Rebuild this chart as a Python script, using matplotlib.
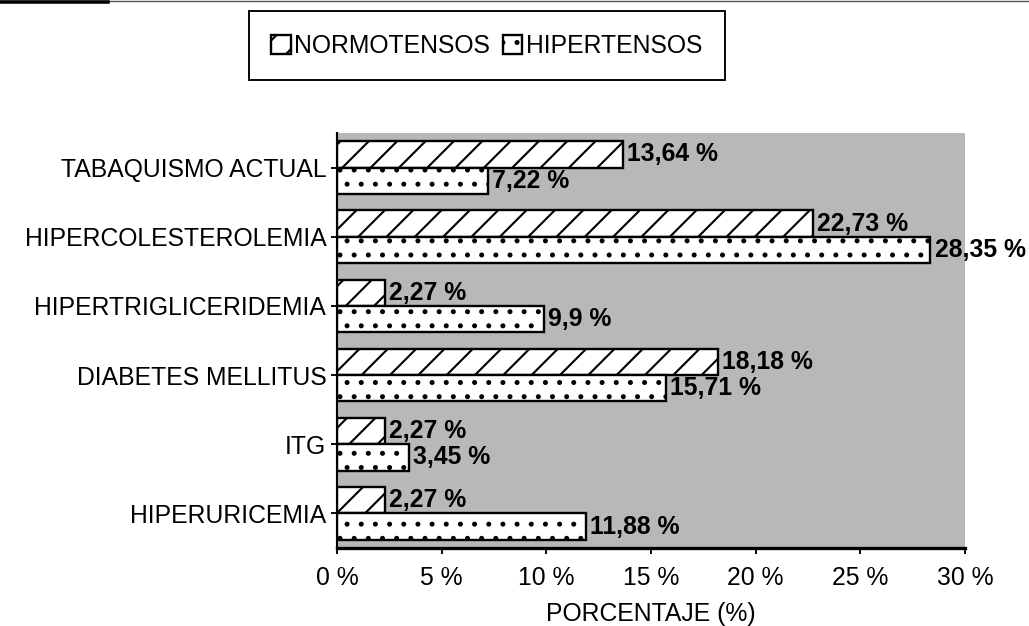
import matplotlib
matplotlib.use('Agg')
import matplotlib.pyplot as plt
import numpy as np
from matplotlib.patches import Patch
from matplotlib.lines import Line2D

# Factores de riesgo: normotensos vs hipertensos
categorias = ['TABAQUISMO ACTUAL', 'HIPERCOLESTEROLEMIA', 'HIPERTRIGLICERIDEMIA',
              'DIABETES MELLITUS', 'ITG', 'HIPERURICEMIA']
normotensos = [13.64, 22.73, 2.27, 18.18, 2.27, 2.27]
hipertensos = [7.22, 28.35, 9.9, 15.71, 3.45, 11.88]
xticks = [0, 5, 10, 15, 20, 25, 30]

DPI = 170
plt.rcParams['font.family'] = ['Liberation Sans', 'DejaVu Sans']
plt.rcParams['hatch.linewidth'] = 0.9

fig = plt.figure(figsize=(1029 / DPI, 626 / DPI), dpi=DPI)
ax = fig.add_axes([0.3275, 0.1246, 0.6103, 0.6629])
ax.set_facecolor('#b8b8b8')

y = np.arange(len(categorias))
h = 0.38
ax.barh(y - h / 2, normotensos, height=h, color='white', edgecolor='black',
        linewidth=1.0, hatch='//')
ax.barh(y + h / 2, hipertensos, height=h, color='white', edgecolor='black',
        linewidth=1.0, hatch='..')


def fmt(v):
    return f"{v:g}".replace('.', ',') + ' %'


for yi, v in zip(y - h / 2, normotensos):
    ax.annotate(fmt(v), (v, yi), xytext=(1.8, 0), textcoords='offset points',
                va='center', ha='left', fontsize=10.5, fontweight='bold',
                annotation_clip=False)
for yi, v in zip(y + h / 2, hipertensos):
    ax.annotate(fmt(v), (v, yi), xytext=(1.8, 0), textcoords='offset points',
                va='center', ha='left', fontsize=10.5, fontweight='bold',
                annotation_clip=False)

ax.set_xlim(0, 30)
ax.set_ylim(len(categorias) - 0.5, -0.5)
ax.set_yticks(y)
ax.set_yticklabels(categorias, fontsize=10.5)
ax.set_xticks(xticks)
ax.set_xticklabels([f"{t} %" for t in xticks], fontsize=10.5)
ax.tick_params(axis='x', direction='out', length=2.5, width=0.8, pad=5)
ax.tick_params(axis='y', direction='out', length=2.5, width=0.8, pad=2)
ax.set_xlabel('PORCENTAJE (%)', fontsize=10.5, labelpad=5)

for s in ['top', 'right']:
    ax.spines[s].set_visible(False)
ax.spines['left'].set_linewidth(0.9)
ax.spines['bottom'].set_linewidth(1.4)

handles = [Patch(facecolor='white', edgecolor='black', hatch='//', label='NORMOTENSOS'),
           Patch(facecolor='white', edgecolor='black', hatch='..', label='HIPERTENSOS')]
leg = fig.legend(handles=handles, loc='center', bbox_to_anchor=(0.473, 0.927), ncol=2,
                 fontsize=10.5, frameon=True, fancybox=False, framealpha=1,
                 edgecolor='black', handlelength=0.8, handleheight=0.8,
                 handletextpad=0.15, columnspacing=0.5, borderpad=0.9)
leg.get_frame().set_linewidth(0.8)

# borde superior de la hoja
fig.add_artist(Line2D([0, 1], [0.998, 0.998], color='#555555', lw=0.6))
fig.add_artist(Line2D([0, 0.105], [0.997, 0.997], color='black', lw=1.5))

plt.savefig('out.png', dpi=DPI)
plt.close()
